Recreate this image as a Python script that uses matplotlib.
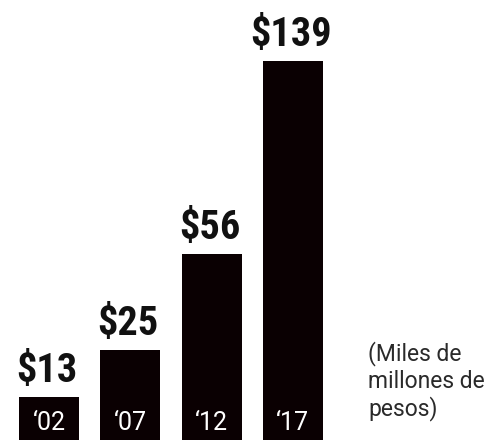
import matplotlib
matplotlib.use("Agg")
import matplotlib.pyplot as plt
from matplotlib import font_manager

years = ["‘02", "‘07", "‘12", "‘17"]
values = [13, 25, 56, 139]            # printed amounts
bar_heights = [13, 27, 56, 114]       # bar heights as drawn in the picture
note = "(Miles de\nmillones de\npesos)"

BAR = "#0a0002"

names = {f.name for f in font_manager.fontManager.ttflist}
cond = [n for n in ["Roboto Condensed", "Liberation Sans Narrow", "Roboto"] if n in names]

fig = plt.figure(figsize=(4.91, 4.41), dpi=100)
ax = fig.add_axes([0, 1 / 441, 1, 440 / 441])
x = range(len(years))
ax.bar(x, bar_heights, width=0.74, color=BAR)
ax.set_xlim(-0.603, 5.437)
ax.set_ylim(0, 132.5)
ax.axis("off")

for i, (h, v, yr) in enumerate(zip(bar_heights, values, years)):
    ax.annotate(f"${v}", (i, h), xytext=(-1.5, 11), textcoords="offset points",
                ha="center", va="baseline", fontsize=29, fontweight="bold",
                family=cond[:1] + ["DejaVu Sans"], color="#111111")
    ax.annotate(yr, (i, 0), xytext=(0, 7.5), textcoords="offset points",
                ha="center", va="baseline", fontsize=18, family="Roboto",
                color="white")

fig.text(368 / 491, 1 - 341 / 441, note, ha="left", va="top", fontsize=16.5,
         family="Roboto", color="#2a2a2a", linespacing=1.2)

fig.savefig("out.png", dpi=100)
